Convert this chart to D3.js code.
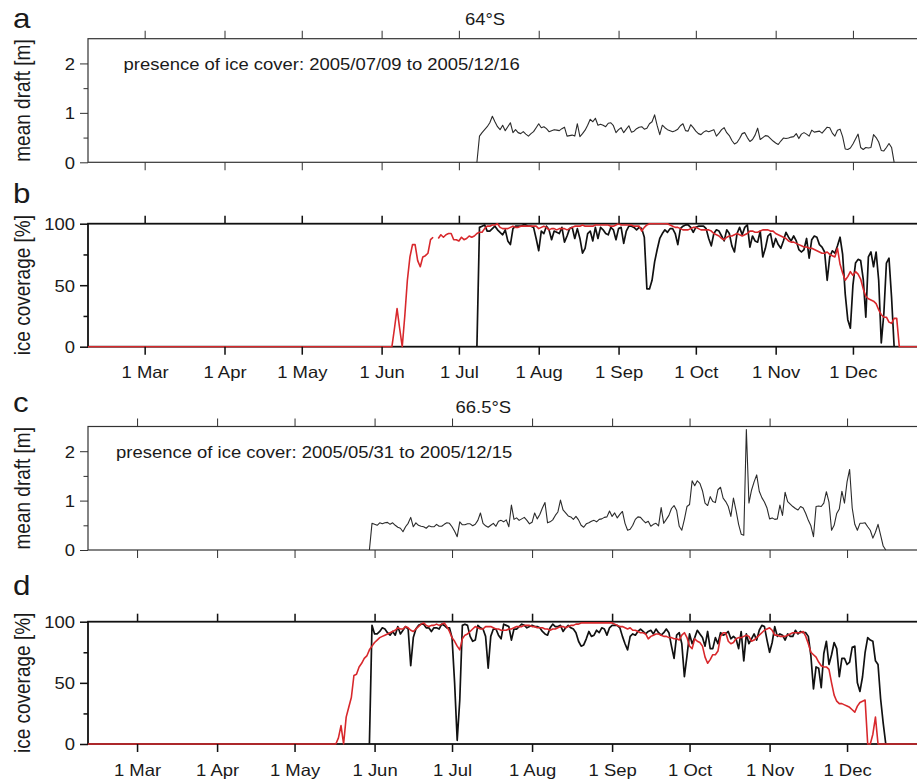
<!DOCTYPE html>
<html>
<head>
<meta charset="utf-8">
<script src="https://cdn.jsdelivr.net/npm/d3@7"></script>
<style>
  html, body { margin: 0; padding: 0; background: #fff; }
  svg { display: block; }
  text { font-family: "Liberation Sans", Arial, Helvetica, sans-serif; fill: #1a1a1a; }
</style>
</head>
<body>
<svg id="chart" width="917" height="780"></svg>
<script>
// ---------------- data ----------------
// x-axis ticks: first day of each month
const monthTicks = ["2005-03-01","2005-04-01","2005-05-01","2005-06-01","2005-07-01",
                    "2005-08-01","2005-09-01","2005-10-01","2005-11-01","2005-12-01"];
const draftTicks = [0, 1, 2];
const draftMinorTicks = [0.5, 1.5];
const coverTicks = [0, 50, 100];
const coverMinorTicks = [25, 75];

// 64°S -- daily mean ice draft [m], first value on the start date
const draft64Start = "2005-07-08";
const draft64 = [
  0,0.53,0.60,0.66,0.72,0.80,0.93,0.82,0.72,0.66,
  0.75,0.64,0.72,0.80,0.60,0.66,0.60,0.58,0.62,0.57,
  0.53,0.58,0.62,0.70,0.78,0.70,0.72,0.68,0.62,0.64,
  0.66,0.65,0.64,0.68,0.71,0.53,0.54,0.55,0.53,0.78,
  0.52,0.58,0.65,0.75,0.87,0.82,0.89,0.75,0.77,0.75,
  0.72,0.79,0.80,0.74,0.60,0.66,0.70,0.60,0.67,0.74,
  0.61,0.63,0.68,0.71,0.72,0.67,0.69,0.78,0.82,0.96,
  0.74,0.56,0.75,0.70,0.66,0.64,0.62,0.64,0.67,0.74,
  0.78,0.64,0.63,0.76,0.70,0.63,0.58,0.56,0.61,0.64,
  0.62,0.64,0.66,0.53,0.59,0.66,0.70,0.60,0.54,0.44,
  0.37,0.40,0.48,0.58,0.60,0.50,0.42,0.46,0.55,0.69,
  0.46,0.50,0.54,0.53,0.48,0.43,0.39,0.36,0.43,0.49,
  0.48,0.49,0.51,0.52,0.58,0.48,0.57,0.60,0.57,0.53,
  0.65,0.61,0.62,0.63,0.59,0.65,0.71,0.70,0.59,0.53,
  0.65,0.67,0.52,0.27,0.26,0.29,0.37,0.47,0.57,0.30,
  0.26,0.30,0.29,0.30,0.56,0.50,0.41,0.24,0.23,0.30,
  0.38,0.30,0
];

// 64°S -- ice coverage [%] from the sonar (black)
const cover64Start = "2005-07-08";
const cover64 = [
  0,97,98,99,94,94,96,98,95,93,
  91,95,86,83,96,98,98,98,99,99,
  98,98,97,88,78,94,92,98,95,87,
  94,93,92,97,85,90,96,97,88,96,
  88,76,80,92,94,86,97,88,97,95,
  92,91,97,95,87,96,97,84,94,98,
  98,97,95,97,96,89,47,47,54,69,
  79,88,92,95,93,96,96,92,83,96,
  98,99,99,97,93,97,98,98,98,96,
  88,82,92,95,94,90,86,95,92,82,
  77,92,97,91,97,99,81,90,86,85,
  94,73,80,90,92,81,88,83,80,86,
  93,89,86,90,86,79,77,79,88,72,
  87,90,89,83,81,77,54,73,78,76,
  82,89,75,43,22,15,50,68,71,70,
  55,24,73,77,65,77,54,3,27,68,
  72,40,0
];

// 64°S -- satellite ice concentration [%] (red); null = no data
const sat64Start = "2005-06-05";
const sat64 = [
  0,15,31,15,0,25,54,73,83,83,
  70,65,73,74,76,87,89,null,88,91,
  89,91,92,92,87,87,86,89,87,88,
  90,89,90,92,93,93,96,98,98,99,
  99,100,97,96,96,96,97,98,97,97,
  98,98,98,98,98,98,98,96,97,98,
  97,95,96,96,95,96,96,96,95,96,
  97,98,98,98,99,98,98,98,98,99,
  99,99,99,99,99,98,98,99,100,99,
  99,99,99,99,98,98,98,94,97,99,
  100,100,100,100,100,100,100,100,99,98,
  97,97,96,95,95,95,96,97,97,96,
  95,95,95,95,94,92,91,90,88,87,
  89,90,90,91,92,91,90,91,92,94,
  94,93,93,94,95,95,95,94,94,92,
  91,90,89,88,86,85,85,84,83,82,
  81,81,80,80,79,78,77,76,76,77,
  75,74,73,80,67,60,54,57,61,58,
  61,59,55,47,41,39,38,37,35,30,
  26,24,24,20,19,23,23,0
];

// 66.5°S -- daily mean ice draft [m]
const draft66Start = "2005-05-30";
const draft66 = [
  0,0.54,0.52,0.50,0.55,0.53,0.55,0.56,0.52,0.55,
  0.50,0.46,0.44,0.37,0.47,0.54,0.66,0.47,0.55,0.50,
  0.48,0.47,0.44,0.49,0.47,0.47,0.52,0.48,0.48,0.52,
  0.55,0.54,0.47,0.38,0.27,0.57,0.51,0.51,0.53,0.53,
  0.49,0.52,0.60,0.75,0.54,0.49,0.46,0.50,0.54,0.48,
  0.58,0.60,0.57,0.61,0.47,0.91,0.62,0.65,0.60,0.63,
  0.66,0.60,0.53,0.56,0.75,0.63,0.72,0.85,0.96,0.55,
  0.57,0.61,0.70,0.77,1.01,0.81,0.75,0.69,0.67,0.62,
  0.68,0.61,0.50,0.46,0.53,0.55,0.58,0.60,0.57,0.62,
  0.63,0.66,0.67,0.79,0.68,0.75,0.65,0.72,0.78,0.54,
  0.40,0.42,0.50,0.62,0.67,0.66,0.60,0.55,0.58,0.48,
  0.52,0.54,0.49,0.86,0.54,0.62,0.70,0.84,0.90,0.80,
  0.48,0.40,0.62,0.88,0.92,1.40,1.30,1.40,1.35,1.20,
  0.95,0.90,1.08,0.98,0.96,1.22,1.27,1.05,0.98,0.88,
  0.68,1.05,0.80,0.52,0.32,0.30,2.44,0.95,1.21,1.38,
  1.52,1.19,1.06,0.97,0.85,0.63,0.65,0.62,0.63,0.91,
  0.70,1.17,0.98,0.93,0.88,0.84,0.81,0.88,0.85,0.74,
  0.60,0.49,0.27,0.88,0.89,0.88,0.95,1.18,0.97,0.40,
  0.50,0.74,0.83,1.19,0.95,1.38,1.63,0.85,0.52,0.40,
  0.54,0.54,0.55,0.47,0.40,0.24,0.36,0.52,0.30,0.08,
  0
];

// 66.5°S -- ice coverage [%] from the sonar (black)
const cover66Start = "2005-05-30";
const cover66 = [
  0,97,90,90,92,95,94,91,89,92,
  89,96,90,93,96,94,64,87,94,97,
  98,98,95,95,92,95,95,94,98,97,
  95,95,87,50,3,36,97,98,97,88,
  84,85,97,95,94,88,62,88,94,94,
  89,86,98,97,96,85,94,94,96,98,
  97,95,96,97,96,96,95,92,90,89,
  95,98,96,96,97,92,95,97,95,94,
  91,84,80,81,86,92,88,89,93,91,
  95,94,89,95,97,97,97,95,88,82,
  77,88,90,89,92,94,92,90,92,93,
  90,94,91,89,91,94,91,80,70,89,
  91,82,55,72,90,82,87,93,90,87,
  80,92,78,78,87,82,91,89,90,92,
  86,88,86,78,92,68,90,82,86,90,
  85,93,97,96,85,75,83,96,88,90,
  89,85,90,88,88,93,90,92,91,91,
  88,72,45,63,62,46,74,84,65,73,
  83,78,55,70,70,65,67,79,80,50,
  43,55,75,87,85,84,68,65,37,17,
  0
];

// 66.5°S -- satellite ice concentration [%] (red)
const sat66Start = "2005-05-17";
const sat66 = [
  0,5,15,0,22,30,38,56,57,63,
  66,70,72,77,80,83,85,87,88,89,
  90,91,92,93,95,94,94,96,95,93,
  92,94,96,98,99,97,96,97,97,98,
  97,98,99,96,92,87,84,80,77,86,
  89,90,92,94,96,95,94,94,96,96,
  96,95,94,94,93,93,93,94,94,95,
  96,96,96,97,97,97,96,96,95,95,
  95,94,94,93,94,94,95,96,96,95,
  96,97,97,98,98,99,99,99,99,99,
  99,99,99,99,99,99,99,99,98,97,
  96,96,95,94,95,93,93,92,91,91,
  90,86,88,89,90,90,89,88,88,87,
  87,86,86,85,89,91,87,80,78,86,
  84,83,80,71,66,69,73,73,76,88,
  91,91,84,82,83,86,87,87,88,89,
  88,84,85,87,89,91,93,94,95,93,
  89,89,88,88,88,89,90,91,91,91,
  91,92,88,82,75,73,71,67,64,63,
  63,61,50,40,35,33,33,32,31,30,
  28,26,31,34,35,36,0,0,8,22,
  0
];

// ---------------- helpers ----------------
const parseDay = d3.utcParse("%Y-%m-%d");
const SX = 1.12;                       // horizontal text scaling of the figure fonts
const FONT = 16.5;

function daily(start, values) {
  const t0 = parseDay(start);
  return values.map((v, i) => ({ t: d3.utcDay.offset(t0, i), v }));
}
// no ice is recorded outside the listed days: extend at zero to the axis limits
function openWater(points, x) {
  const [t0, t1] = x.domain();
  return [{ t: t0, v: 0 }, ...points, { t: t1, v: 0 }];
}

const svg = d3.select("#chart");
svg.append("rect").attr("width", 917).attr("height", 780).attr("fill", "#fff");

const xUpper = d3.scaleUtc()
  .domain([parseDay("2005-02-07"), parseDay("2005-12-31")])
  .range([88, 930.2]);
const xLower = d3.scaleUtc()
  .domain([parseDay("2005-02-10"), parseDay("2005-12-31")])
  .range([88, 924.5]);

const RED = "#d8282c";

const panels = [
  { letter: "a", letterY: 28.3, kind: "draft", x: xUpper, top: 38.7, bottom: 162.3,
    title: "64°S", titleX: 485, titleY: 25,
    note: "presence of ice cover: 2005/07/09 to 2005/12/16", noteX: 123.5, noteY: 70,
    lines: [{ data: daily(draft64Start, draft64), color: "#2b2b2b", width: 1.1 }],
    labels: false },
  { letter: "b", letterY: 203, kind: "cover", x: xUpper, top: 223.7, bottom: 346.7,
    lines: [
      { data: daily(cover64Start, cover64), color: "#111", width: 1.7 },
      { data: openWater(daily(sat64Start, sat64), xUpper), color: RED, width: 1.6 }
    ],
    labels: true },
  { letter: "c", letterY: 411.5, kind: "draft", x: xLower, top: 426.5, bottom: 550,
    title: "66.5°S", titleX: 483.3, titleY: 412.7,
    note: "presence of ice cover: 2005/05/31 to 2005/12/15", noteX: 116, noteY: 458,
    lines: [{ data: daily(draft66Start, draft66), color: "#2b2b2b", width: 1.1 }],
    labels: false },
  { letter: "d", letterY: 595, kind: "cover", x: xLower, top: 621.7, bottom: 744,
    lines: [
      { data: daily(cover66Start, cover66), color: "#111", width: 1.7 },
      { data: openWater(daily(sat66Start, sat66), xLower), color: RED, width: 1.6 }
    ],
    labels: true }
];

function hText(g, x, y, str, size, anchor) {
  return g.append("text")
    .attr("transform", `translate(${x},${y}) scale(${SX},1)`)
    .attr("text-anchor", anchor || "start")
    .style("font-size", size + "px")
    .text(str);
}

const monthDates = monthTicks.map(parseDay);

panels.forEach(p => {
  const g = svg.append("g");
  const isDraft = p.kind === "draft";
  const y = d3.scaleLinear()
    .domain(isDraft ? [0, 2.5] : [0, 100])
    .range([p.bottom, p.top]);
  const frameColor = isDraft ? "#333" : "#111";
  const frameWidth = isDraft ? 1.2 : 1.8;
  const [x0, x1] = p.x.range();

  // frame
  g.append("rect")
    .attr("x", x0).attr("y", p.top)
    .attr("width", x1 - x0).attr("height", p.bottom - p.top)
    .attr("fill", "none").attr("stroke", frameColor).attr("stroke-width", frameWidth);

  // clip for the data lines
  const clipId = "clip-" + p.letter;
  svg.append("clipPath").attr("id", clipId)
    .append("rect").attr("x", x0).attr("y", p.top - 1)
    .attr("width", x1 - x0).attr("height", p.bottom - p.top + 2);

  // data lines, drawn over the frame
  const line = d3.line()
    .defined(d => d.v != null)
    .x(d => p.x(d.t))
    .y(d => y(d.v));
  const lg = g.append("g").attr("clip-path", `url(#${clipId})`);
  p.lines.forEach(s => {
    lg.append("path")
      .datum(s.data)
      .attr("fill", "none")
      .attr("stroke", s.color)
      .attr("stroke-width", s.width)
      .attr("stroke-linejoin", "round")
      .attr("d", line);
  });

  const styleAxis = sel => {
    sel.select(".domain").remove();
    sel.selectAll(".tick line").attr("stroke", frameColor).attr("stroke-width", frameWidth * 0.85);
    sel.selectAll(".tick text").style("font-size", FONT + "px")
      .attr("fill", "#1a1a1a").style("font-family", '"Liberation Sans", Arial, sans-serif');
  };

  // month ticks on top and bottom
  g.append("g").attr("transform", `translate(0,${p.top})`)
    .call(d3.axisTop(p.x).tickValues(monthDates).tickSize(8).tickFormat(""))
    .call(styleAxis);
  const bottomAxis = g.append("g").attr("transform", `translate(0,${p.bottom})`)
    .call(d3.axisBottom(p.x).tickValues(monthDates).tickSize(8)
      .tickFormat(p.labels ? d3.utcFormat("%-d %b") : ""))
    .call(styleAxis);
  if (p.labels) {
    bottomAxis.selectAll(".tick text")
      .attr("y", 31.6).attr("dy", 0)
      .attr("transform", `scale(${SX},1)`);
  }

  // y axis: major ticks with labels, minor ticks without
  const yAxis = g.append("g").attr("transform", `translate(${x0},0)`)
    .call(d3.axisLeft(y).tickValues(isDraft ? draftTicks : coverTicks)
      .tickSize(8).tickPadding(5).tickFormat(d3.format("d")))
    .call(styleAxis);
  yAxis.selectAll(".tick text")
    .attr("x", -13 / SX).attr("dy", "0.36em")
    .attr("transform", `scale(${SX},1)`);
  g.append("g").attr("transform", `translate(${x0},0)`)
    .call(d3.axisLeft(y).tickValues(isDraft ? draftMinorTicks : coverMinorTicks)
      .tickSize(4.5).tickFormat(""))
    .call(styleAxis);

  // y title
  g.append("text")
    .attr("transform", `translate(30,${(p.top + p.bottom) / 2}) scale(${SX},1) rotate(-90)`)
    .attr("text-anchor", "middle")
    .style("font-size", "19px")
    .text(isDraft ? "mean draft [m]" : "ice coverage [%]");

  // panel letter
  hText(g, 13, p.letterY, p.letter, 28);

  // latitude title and ice-presence note
  if (p.title) hText(g, p.titleX, p.titleY, p.title, FONT, "middle");
  if (p.note) hText(g, p.noteX, p.noteY, p.note, FONT);
});
</script>
</body>
</html>
